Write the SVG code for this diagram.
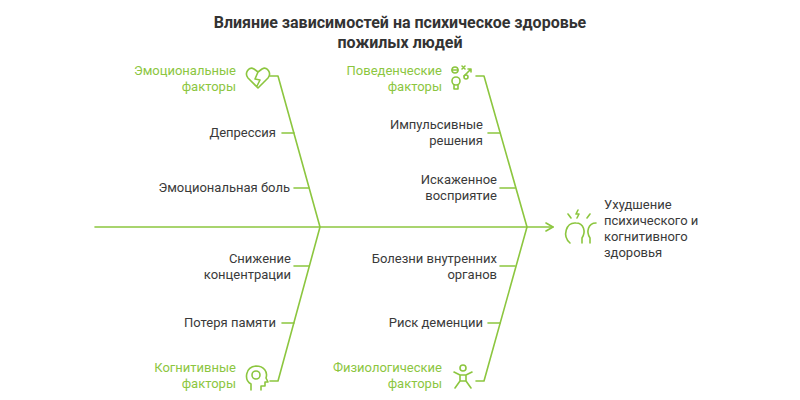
<svg xmlns="http://www.w3.org/2000/svg" width="800" height="400" viewBox="0 0 800 400">
<style>
text{font-family:Roboto,"Liberation Sans",sans-serif;font-size:13px;fill:#3a3a3a}
.t{font-size:16px;font-weight:bold;fill:#333;text-anchor:middle}
.g{fill:#8cc63f}
.r{text-anchor:end}
.l{stroke:#8cc63f;stroke-width:1.6;fill:none;stroke-linecap:round;stroke-linejoin:round}
</style>
<defs><marker id="a" markerWidth="10" markerHeight="10" refX="8" refY="5" orient="auto" markerUnits="userSpaceOnUse"><path d="M1,1 L8,5 L1,9" class="l"/></marker></defs>
<rect width="800" height="400" fill="#fff"/>
<text class="t" x="400" y="28">Влияние зависимостей на психическое здоровье</text>
<text class="t" x="400" y="48">пожилых людей</text>
<g id="connectors" class="l">
<path d="M95,227 H553" marker-end="url(#a)"/>
<path d="M270,76 H278 L320,227 L278,381 H270"/>
<path d="M476,76 H484 L527,227 L484,381 H476"/>
<path d="M282,133 H294 M294,188 H309 M294,266 H309 M282,323 H294"/>
<path d="M488,133 H500 M500,188 H515 M500,266 H515 M488,323 H500"/>
</g>
<g id="emo"><text class="g r" x="236" y="75">Эмоциональные</text><text class="g r" x="236" y="91">факторы</text>
<path class="l" d="M258,88 L248,78 C244,73 249,66 254,69 L258,72 L262,69 C267,66 272,73 268,78 Z M258,72 L255,79 L260,80 L257,86"/></g>
<g id="beh"><text class="g r" x="442" y="75">Поведенческие</text><text class="g r" x="442" y="91">факторы</text>
<g class="l"><circle cx="455" cy="70" r="3"/><path d="M452,70 H458"/><circle cx="456" cy="81" r="4"/><path d="M454,85 V89 H458 V85"/><path d="M462,66 l3,3 M465,66 l-3,3 M464,76 l7,-7 M468,69 h3 v3"/><circle cx="466" cy="77" r="2"/></g></g>
<g id="cog"><text class="g r" x="236" y="372">Когнитивные</text><text class="g r" x="236" y="388">факторы</text>
<g class="l"><path d="M251,390 V384 C244,380 245,367 256,366 C264,366 268,372 266,378 L268,382 H265 V386 H261 V390"/><circle cx="256" cy="375" r="4"/></g></g>
<g id="phy"><text class="g r" x="442" y="372">Физиологические</text><text class="g r" x="442" y="388">факторы</text>
<g class="l"><circle cx="463" cy="368" r="3"/><path d="M454,372 L460,375 V381 L455,388 M472,372 L466,375 V381 L471,388 M460,375 H466 M460,381 H466"/></g></g>
<g id="labels">
<text class="r" x="276" y="137">Депрессия</text>
<text class="r" x="290" y="192">Эмоциональная боль</text>
<text class="r" x="291" y="263">Снижение</text><text class="r" x="291" y="279">концентрации</text>
<text class="r" x="276" y="327">Потеря памяти</text>
<text class="r" x="483" y="129">Импульсивные</text><text class="r" x="483" y="145">решения</text>
<text class="r" x="497" y="184">Искаженное</text><text class="r" x="497" y="200">восприятие</text>
<text class="r" x="497" y="263">Болезни внутренних</text><text class="r" x="497" y="279">органов</text>
<text class="r" x="483" y="327">Риск деменции</text>
</g>
<g id="result"><text x="604" y="209">Ухудшение</text><text x="604" y="225">психического и</text><text x="604" y="241">когнитивного</text><text x="604" y="257">здоровья</text>
<g class="l"><path d="M570,243 C562,236 566,222 576,223 C584,223 586,232 582,238 V243 M590,243 V238 C586,232 588,223 596,223"/><path d="M568,214 l3,4 M578,210 l-2,4 l3,0 l-2,4 M590,214 l-3,4"/></g></g>
</svg>
